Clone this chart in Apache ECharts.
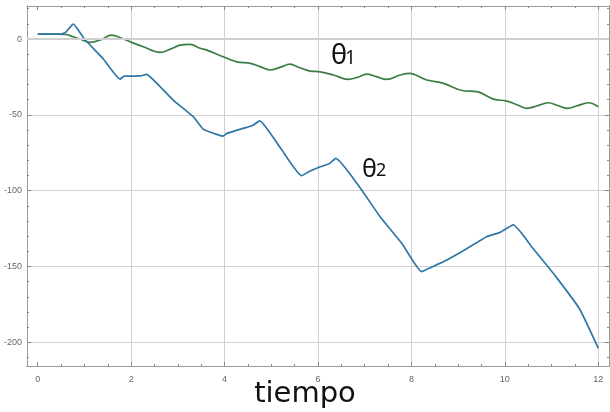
<!DOCTYPE html>
<html>
<head>
<meta charset="utf-8">
<script src="https://cdn.jsdelivr.net/npm/echarts@6/dist/echarts.min.js"></script>
<style>html,body{margin:0;padding:0;background:#fff;}#c{width:610px;height:412px;}</style>
</head>
<body>
<div id="c"></div>
<script>
// Data
var time1 = [0, 0.4, 0.6, 0.76, 0.9, 1.12, 1.35, 1.58, 1.8, 2.01, 2.26, 2.62, 2.85, 3.05, 3.26, 3.48, 3.62, 3.97, 4.26, 4.55, 4.75, 4.97, 5.2, 5.4, 5.6, 5.83, 6.05, 6.33, 6.65, 6.85, 7.04, 7.25, 7.47, 7.76, 7.97, 8.15, 8.33, 8.69, 9.11, 9.4, 9.76, 10.04, 10.25, 10.47, 10.7, 10.93, 11.13, 11.33, 11.55, 11.79, 12.0];
var theta1 = [3.3, 3.3, 3.0, 1.5, 0, -2.2, -0.5, 2.6, 0.5, -2.2, -5.1, -8.8, -6.5, -4.0, -3.5, -6.1, -7.3, -11.7, -15, -16, -18, -20.4, -18.5, -16.5, -18.8, -21.1, -21.6, -23.7, -26.6, -25.2, -23.1, -24.8, -26.6, -23.7, -22.6, -24.5, -27, -29.2, -34.1, -34.7, -39.6, -40.9, -43.2, -45.7, -44, -42, -43.8, -45.7, -44, -42, -44.6];
var time2 = [0, 0.5, 0.6, 0.76, 1.0, 1.4, 1.76, 1.85, 2.0, 2.2, 2.33, 2.55, 2.9, 3.33, 3.55, 3.8, 3.97, 4.05, 4.4, 4.6, 4.75, 5.2, 5.65, 5.8, 6.05, 6.25, 6.38, 6.9, 7.33, 7.8, 8.22, 8.35, 8.76, 9.2, 9.61, 9.9, 10.18, 10.6, 11.1, 11.6, 12.0];
var theta2 = [3.3, 3.3, 4.5, 9.9, 0, -13, -26.4, -24.5, -24.4, -24.3, -23.3, -29.2, -40.2, -51.2, -59.6, -62.5, -64, -62.2, -58.9, -57, -53.9, -72, -90.1, -87.5, -84.2, -82, -78.7, -98, -117.2, -135, -153.4, -151.5, -145.7, -138, -130.3, -127.5, -122.6, -138, -157, -178, -203.9];
var xTicks = [0, 2, 4, 6, 8, 10, 12];
var xMinorTicks = [0.5, 1, 1.5, 2.5, 3, 3.5, 4.5, 5, 5.5, 6.5, 7, 7.5, 8.5, 9, 9.5, 10.5, 11, 11.5];
var yTicks = [-200, -150, -100, -50, 0];
var yMinorTicks = [-210, -190, -180, -170, -160, -140, -130, -120, -110, -90, -80, -70, -60, -40, -30, -20, -10, 10, 20];
var seriesNames = ['θ1', 'θ2'];
var xTitle = 'tiempo';

var xMin = -0.23, xMax = 12.23, yMin = -215.6, yMax = 21.8;
function zip(a, b) { return a.map(function (v, i) { return [v, b[i]]; }); }

var frameColor = '#9a9a9a';
function xAx(pos, values, len, labels, split) {
  return {
    type: 'value', position: pos, min: xMin, max: xMax,
    axisLine: { show: true, onZero: false, lineStyle: { color: frameColor, width: 1 } },
    axisTick: { show: len > 0, inside: true, length: len, customValues: values, lineStyle: { color: '#888' } },
    axisLabel: { show: labels, customValues: values, color: '#666', fontSize: 9, fontFamily: 'Liberation Sans', margin: 9 },
    splitLine: { show: split, lineStyle: { color: '#d0d0d0', width: 1 } }
  };
}
function yAx(pos, values, len, labels, split) {
  return {
    type: 'value', position: pos, min: yMin, max: yMax,
    axisLine: { show: true, onZero: false, lineStyle: { color: frameColor, width: 1 } },
    axisTick: { show: len > 0, inside: true, length: len, customValues: values, lineStyle: { color: '#888' } },
    axisLabel: { show: labels, customValues: values, color: '#666', fontSize: 9, fontFamily: 'Liberation Sans', margin: 5 },
    splitLine: { show: split, lineStyle: { color: '#d0d0d0', width: 1 } }
  };
}
var xTicksNoZero = xTicks.filter(function (v) { return v !== 0; });

var chart = echarts.init(document.getElementById('c'), null, { renderer: 'canvas' });
chart.setOption({
  animation: false,
  backgroundColor: '#fff',
  grid: { left: 27, right: 1, top: 6, bottom: 46, containLabel: false },
  xAxis: [
    xAx('bottom', xTicks, 4, true, false),
    xAx('bottom', xMinorTicks, 2, false, false),
    xAx('top', xTicks, 4, false, false),
    xAx('top', xMinorTicks, 2, false, false),
    xAx('bottom', xTicksNoZero, 0, false, true)
  ],
  yAxis: [
    yAx('left', yTicks, 4, true, true),
    yAx('left', yMinorTicks, 2, false, false),
    yAx('right', yTicks, 4, false, false),
    yAx('right', yMinorTicks, 2, false, false)
  ],
  series: [
    {
      name: seriesNames[0], type: 'line', xAxisIndex: 0, yAxisIndex: 0,
      data: zip(time1, theta1), showSymbol: false, smooth: 0.4,
      lineStyle: { color: '#3a7d45', width: 1.7 },
      markLine: {
        silent: true, symbol: 'none', label: { show: false },
        lineStyle: { color: '#cfcfcf', width: 2, type: 'solid' },
        data: [{ yAxis: 0 }]
      },
      z: 3
    },
    {
      name: seriesNames[1], type: 'line', xAxisIndex: 0, yAxisIndex: 0,
      data: zip(time2, theta2), showSymbol: false, smooth: 0.15,
      lineStyle: { color: '#2e77a6', width: 1.7 }, z: 4
    }
  ],
  graphic: [
    { type: 'text', left: 331, top: 43, style: { text: 'θ', fontSize: 27, fontFamily: 'Noto Sans', fill: '#111' } },
    { type: 'text', left: 345, top: 49, style: { text: '1', fontSize: 19, fontFamily: 'Noto Sans', fill: '#111' } },
    { type: 'text', left: 362, top: 157, style: { text: 'θ', fontSize: 25, fontFamily: 'Noto Sans', fill: '#111' } },
    { type: 'text', left: 376, top: 162, style: { text: '2', fontSize: 18, fontFamily: 'Noto Sans', fill: '#111' } },
    { type: 'text', left: 'center', top: 380, style: { text: xTitle, fontSize: 29, fontFamily: 'DejaVu Sans', fill: '#111' } }
  ]
});
</script>
</body>
</html>
